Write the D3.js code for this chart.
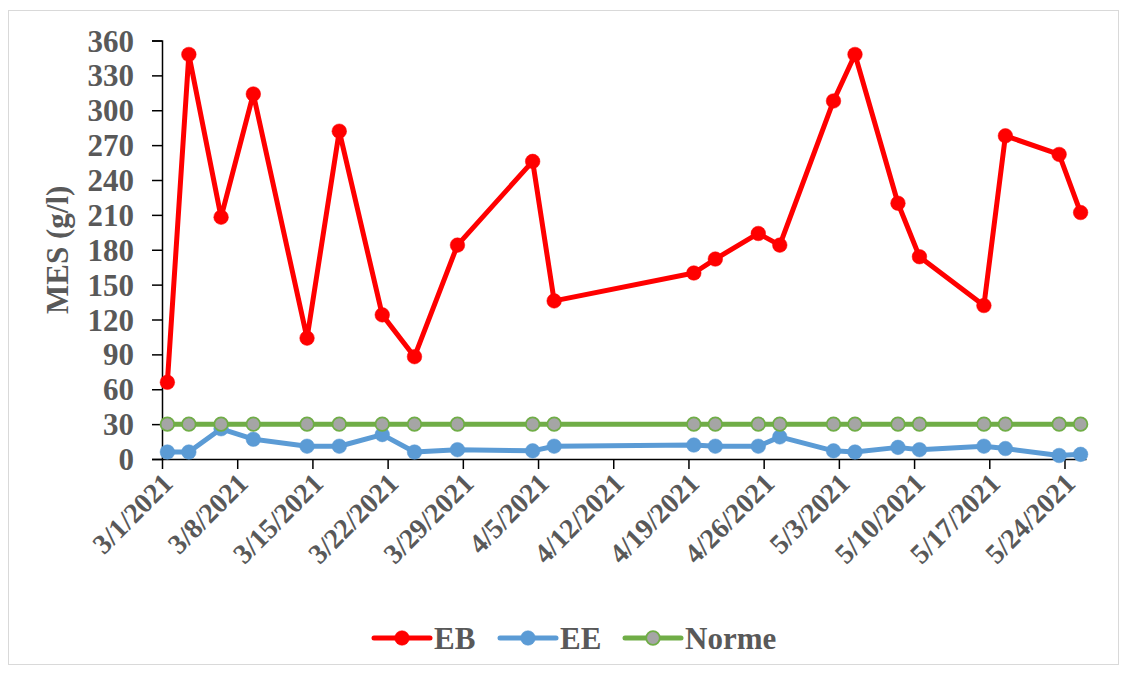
<!DOCTYPE html>
<html>
<head>
<meta charset="utf-8">
<script src="https://cdn.jsdelivr.net/npm/d3@7/dist/d3.min.js"></script>
<style>
  html, body { margin: 0; padding: 0; background: #fff; }
  svg { display: block; }
  text { font-family: "Liberation Serif", "Times New Roman", serif; font-weight: bold; fill: #595959; }
</style>
</head>
<body>
<svg id="chart" width="1126" height="673"></svg>
<script>
// Sampling dates and MES measurements (g/l)
const dates = ["2021-03-01","2021-03-03","2021-03-06","2021-03-09","2021-03-14","2021-03-17",
  "2021-03-21","2021-03-24","2021-03-28","2021-04-04","2021-04-06","2021-04-19","2021-04-21",
  "2021-04-25","2021-04-27","2021-05-02","2021-05-04","2021-05-08","2021-05-10","2021-05-16",
  "2021-05-18","2021-05-23","2021-05-25"];
const eb    = [66,348,208,314,104,282,124,88,184,256,136,160,172,194,184,308,348,220,174,132,278,262,212];
const ee    = [6,6,26,17,11,11,21,6,8,7,11,12,11,11,19,7,6,10,8,11,9,3,4];
const norme = [30,30,30,30,30,30,30,30,30,30,30,30,30,30,30,30,30,30,30,30,30,30,30];

const yTicks = [0,30,60,90,120,150,180,210,240,270,300,330,360];
const xTickLabels = ["3/1/2021","3/8/2021","3/15/2021","3/22/2021","3/29/2021","4/5/2021",
  "4/12/2021","4/19/2021","4/26/2021","5/3/2021","5/10/2021","5/17/2021","5/24/2021"];

const seriesNames = ["EB","EE","Norme"];

const parse = d3.utcParse("%Y-%m-%d");
const DAY = 86400000;
const FONT = "31px";

const svg = d3.select("#chart");

// chart frame
svg.append("rect")
  .attr("x", 8.5).attr("y", 10.5).attr("width", 1110).attr("height", 654)
  .attr("fill", "#fff").attr("stroke", "#d9d9d9").attr("stroke-width", 1);

const plot = { left: 162, top: 40.5, bottom: 459 };
const x0 = parse("2021-03-01");
const x1 = new Date(parse("2021-05-25").getTime() + DAY);
const x = d3.scaleUtc().domain([x0, x1]).range([plot.left, plot.left + 86 * 10.744]);
const y = d3.scaleLinear().domain([0, 360]).range([plot.bottom, plot.top]);

// points sit in the middle of each day slot
const mid = s => new Date(parse(s).getTime() + DAY / 2);

// Y axis
const yAxis = d3.axisLeft(y).tickValues(yTicks).tickSize(10).tickPadding(18).tickFormat(d3.format("d"));
const gy = svg.append("g").attr("transform", `translate(${plot.left},0)`).call(yAxis);
gy.select(".domain").attr("stroke", "#000").attr("stroke-width", 1.5);
gy.selectAll(".tick line").attr("stroke", "#000").attr("stroke-width", 1.5);
gy.selectAll(".tick text").style("font-size", FONT).attr("fill", "#595959").attr("dy", "0.34em");

// X axis
const tickDates = xTickLabels.map(s => d3.utcParse("%-m/%-d/%Y")(s));
const xAxis = d3.axisBottom(x).tickValues(tickDates).tickSize(10).tickSizeOuter(0)
  .tickFormat(d3.utcFormat("%-m/%-d/%Y"));
const gx = svg.append("g").attr("transform", `translate(0,${plot.bottom})`).call(xAxis);
gx.select(".domain").attr("stroke", "#000").attr("stroke-width", 1.5);
gx.selectAll(".tick line").attr("stroke", "#000").attr("stroke-width", 1.5);
gx.selectAll(".tick text")
  .style("font-size", "28px").attr("fill", "#595959")
  .attr("text-anchor", "end")
  .attr("x", 0).attr("y", 0).attr("dy", 0)
  .attr("transform", "translate(12,26) rotate(-45)");

// Y axis title
svg.append("text")
  .attr("transform", `translate(68,${(plot.top + plot.bottom) / 2}) rotate(-90)`)
  .attr("text-anchor", "middle")
  .style("font-size", FONT)
  .text("MES (g/l)");

const line = d3.line().x(d => x(mid(d.date))).y(d => y(d.value));

const series = [
  { name: seriesNames[0], values: eb,    stroke: "#ff0000", fill: "#ff0000", mstroke: "#ff0000" },
  { name: seriesNames[1], values: ee,    stroke: "#5b9bd5", fill: "#5b9bd5", mstroke: "#5b9bd5" },
  { name: seriesNames[2], values: norme, stroke: "#70ad47", fill: "#a5a5a5", mstroke: "#70ad47" }
];

series.forEach(s => {
  const pts = dates.map((d, i) => ({ date: d, value: s.values[i] }));
  const g = svg.append("g");
  g.append("path").datum(pts)
    .attr("fill", "none").attr("stroke", s.stroke).attr("stroke-width", 5)
    .attr("stroke-linejoin", "round").attr("d", line);
  g.selectAll("circle").data(pts).join("circle")
    .attr("cx", d => x(mid(d.date))).attr("cy", d => y(d.value))
    .attr("r", s.name === "Norme" ? 6.8 : 7.3)
    .attr("fill", s.fill)
    .attr("stroke", s.mstroke).attr("stroke-width", s.name === "Norme" ? 1.8 : 0.5);
});

// Legend
const legendX = [374, 500, 625];
const legendY = 638;
series.forEach((s, i) => {
  const g = svg.append("g").attr("transform", `translate(${legendX[i]},${legendY})`);
  g.append("line").attr("x1", 0).attr("x2", 56).attr("y1", 0).attr("y2", 0)
    .attr("stroke", s.stroke).attr("stroke-width", 5).attr("stroke-linecap", "round");
  g.append("circle").attr("cx", 28).attr("cy", 0)
    .attr("r", s.name === "Norme" ? 6.8 : 7.3)
    .attr("fill", s.fill).attr("stroke", s.mstroke).attr("stroke-width", s.name === "Norme" ? 1.8 : 0.5);
  g.append("text").attr("x", 60).attr("y", 0).attr("dy", "0.35em")
    .style("font-size", FONT).text(s.name);
});
</script>
</body>
</html>
